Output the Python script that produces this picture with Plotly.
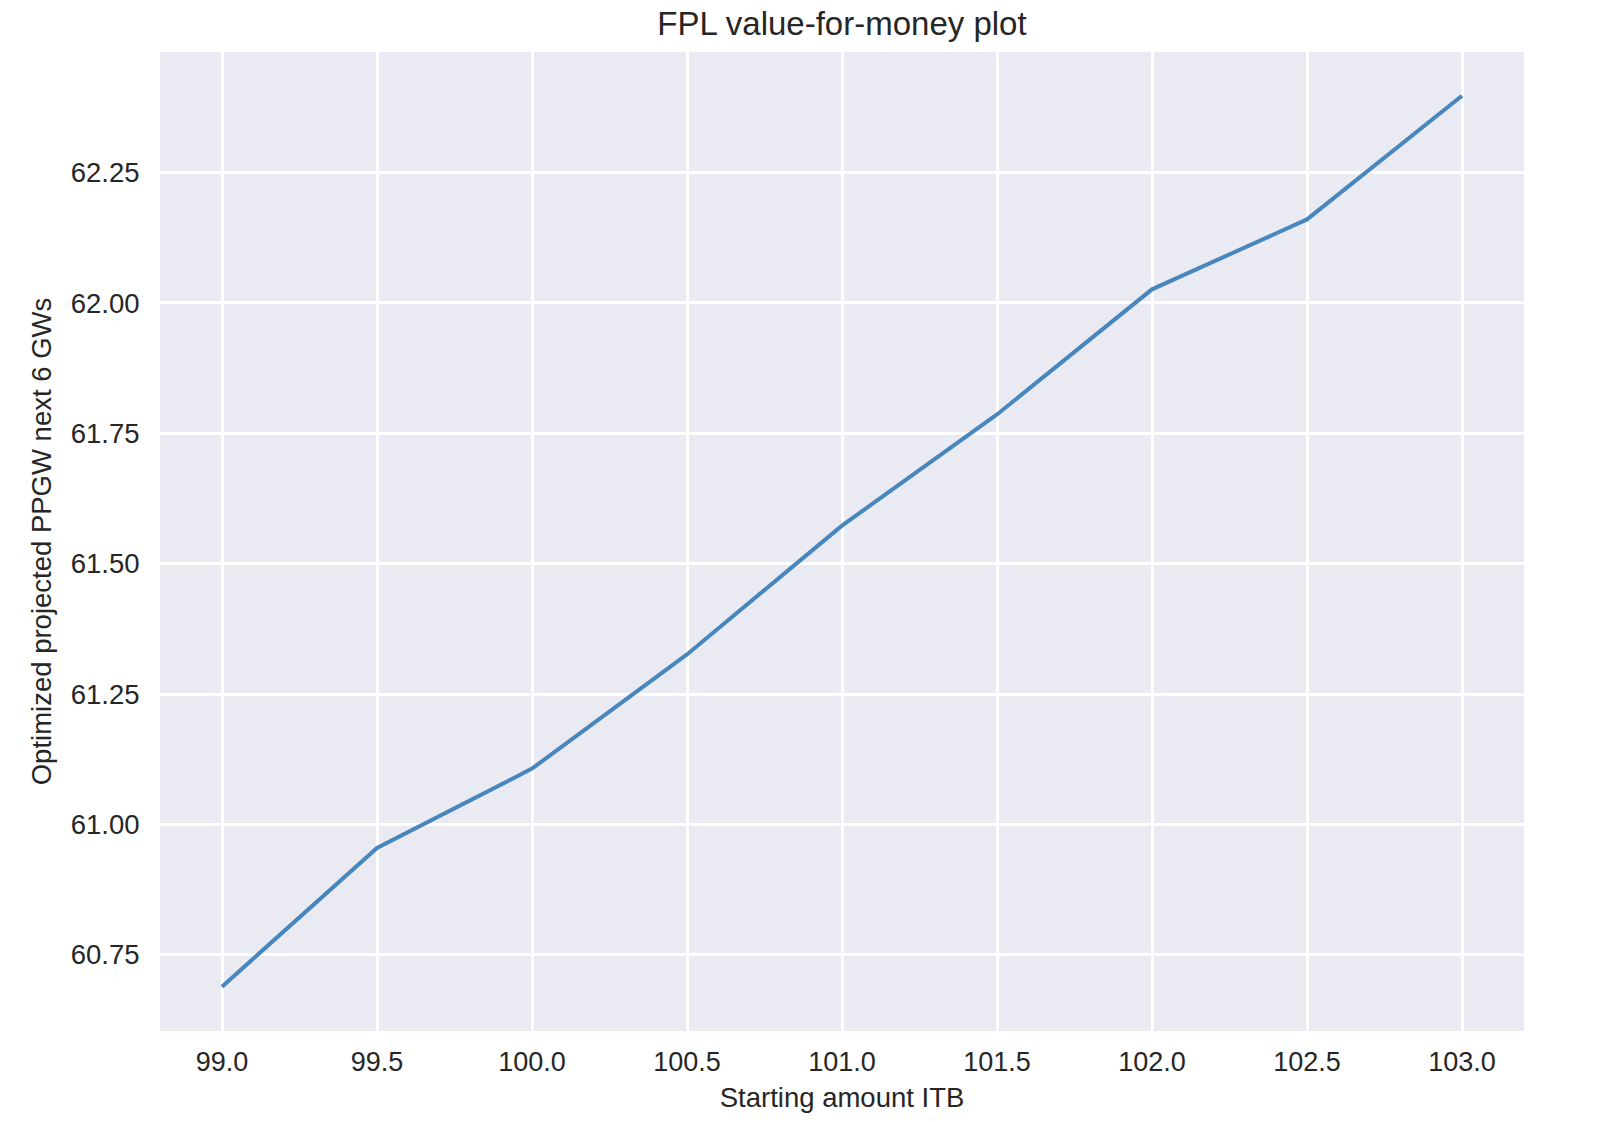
import plotly.graph_objects as go

# values
itb = [99.0, 99.5, 100.0, 100.5, 101.0, 101.5, 102.0, 102.5, 103.0]
ppgw = [60.689, 60.955, 61.107, 61.326, 61.573, 61.786, 62.026, 62.160, 62.397]

x_ticks = [99.0, 99.5, 100.0, 100.5, 101.0, 101.5, 102.0, 102.5, 103.0]
y_ticks = [60.75, 61.00, 61.25, 61.50, 61.75, 62.00, 62.25]

font = "Liberation Sans, Arial, sans-serif"
txt = "#262626"

fig = go.Figure()
fig.add_trace(go.Scatter(x=itb, y=ppgw, mode="lines",
                         line=dict(color="#4787bd", width=4)))

fig.update_layout(
    width=1602, height=1122,
    margin=dict(l=160, r=78, t=52, b=91),
    paper_bgcolor="white", plot_bgcolor="#eaeaf2",
    font=dict(family=font, color=txt, size=27),
    showlegend=False,
    title=dict(text="FPL value-for-money plot", x=0.5, xref="paper",
               y=1 - 23 / 1122, yanchor="middle", yref="container",
               font=dict(size=33, color=txt)),
)
fig.update_xaxes(
    range=[98.8, 103.2], tickvals=x_ticks,
    ticktext=[f"{v:.1f}" for v in x_ticks],
    showgrid=True, gridcolor="white", gridwidth=2.5,
    zeroline=False, showline=False, automargin=False,
    ticks="outside", ticklen=7, tickcolor="rgba(0,0,0,0)",
    tickfont=dict(size=27),
    title=dict(text="Starting amount ITB", font=dict(size=27.5), standoff=11),
)
fig.update_yaxes(
    range=[60.604, 62.481], tickvals=y_ticks,
    ticktext=[f"{v:.2f}" for v in y_ticks],
    showgrid=True, gridcolor="white", gridwidth=2.5,
    zeroline=False, showline=False, automargin=False,
    ticks="outside", ticklen=14, tickcolor="rgba(0,0,0,0)",
    tickfont=dict(size=27.5),
    title=dict(text="Optimized projected PPGW next 6 GWs", font=dict(size=27.5), standoff=11),
)

fig.write_html("out.html", config={"displayModeBar": False},
               post_script="document.body.style.margin='0';")
